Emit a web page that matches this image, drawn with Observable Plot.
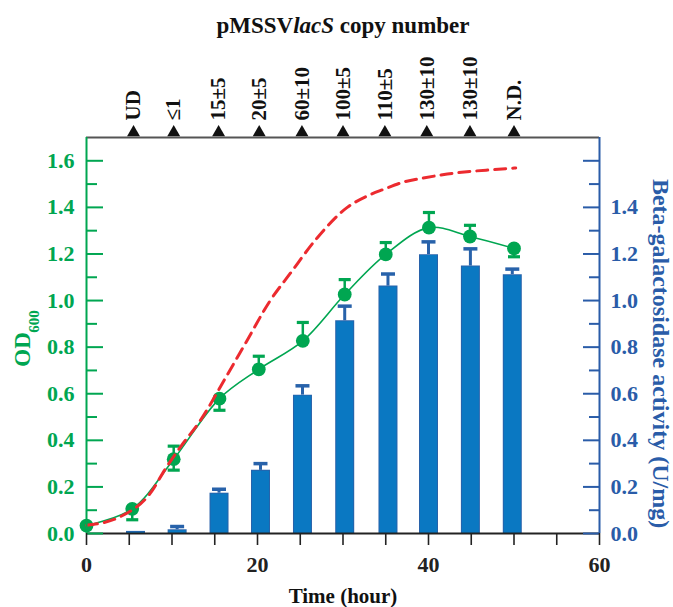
<!DOCTYPE html>
<html><head><meta charset="utf-8">
<script src="https://cdn.jsdelivr.net/npm/d3@7"></script>
<script src="https://cdn.jsdelivr.net/npm/@observablehq/plot@0.6"></script>
<style>body{margin:0;background:#fff}</style>
</head><body><div id="chart"></div>
<script>
// OD600 growth data (green)
const odTime = [0, 5.35, 10.2, 15.55, 20.15, 25.3, 30.2, 35.0, 40.05, 44.85, 50.0];
const odValue = [0.034, 0.106, 0.319, 0.579, 0.705, 0.827, 1.026, 1.198, 1.313, 1.275, 1.224];
const odErrUp = [null, null, 0.375, null, 0.761, 0.906, 1.09, 1.249, 1.378, 1.323, null];
const odErrDown = [null, 0.059, 0.272, 0.529, null, null, null, null, null, null, 1.188];

// Beta-galactosidase activity (blue bars)
const barTime = [5.73, 10.6, 15.5, 20.35, 25.26, 30.2, 35.26, 40.0, 44.9, 49.8];
const barValue = [0.009, 0.016, 0.173, 0.271, 0.594, 0.913, 1.062, 1.197, 1.148, 1.111];
const barErrUp = [null, 0.03, 0.19, 0.30, 0.634, 0.976, 1.114, 1.252, 1.222, 1.135];

// Red dashed reference growth curve
const redTime = [0, 4, 7.7, 9.1, 11, 13.4, 16.1, 18.8, 21.4, 23.9, 27, 30.5, 32.9, 34.8, 37.1, 39.4, 42.2, 44.5, 47.6, 50.2];
const redValue = [0.035, 0.073, 0.185, 0.27, 0.372, 0.49, 0.658, 0.83, 0.995, 1.12, 1.27, 1.40, 1.45, 1.478, 1.509, 1.526, 1.543, 1.553, 1.562, 1.569];

// Copy number annotations (top)
const copyTime = [5.5, 10.2, 15.45, 20.2, 25.2, 30.0, 34.9, 39.8, 44.85, 50.0];
const copyLabels = ["UD", "≤1", "15±5", "20±5", "60±10", "100±5", "110±5", "130±10", "130±10", "N.D."];

const xTicksMinor = [0, 5, 10, 15, 20, 25, 30, 35, 40, 45, 50, 55, 60];
const xTickLabels = [0, 20, 40, 60];
const yMajor = [0, 0.2, 0.4, 0.6, 0.8, 1.0, 1.2, 1.4, 1.6];
const yMinor = [0.1, 0.3, 0.5, 0.7, 0.9, 1.1, 1.3, 1.5];
const yRightLabels = [0, 0.2, 0.4, 0.6, 0.8, 1.0, 1.2, 1.4];

const GREEN = "#00a651", BLUE = "#2a5ca8", BARFILL = "#0a78c2", BAREDGE = "#2862aa", RED = "#ec2a2f";
const FONT = "'Liberation Serif', 'Times New Roman', serif";

const od = odTime.map((t, i) => ({t, v: odValue[i], up: odErrUp[i], down: odErrDown[i]}));
const bars = barTime.map((t, i) => ({t, v: barValue[i], up: barErrUp[i]}));
const red = redTime.map((t, i) => ({t, v: redValue[i]}));
const copy = copyTime.map((t, i) => ({t, label: copyLabels[i]}));

const cap = {draw(ctx, size) { const w = Math.sqrt(size); ctx.moveTo(-w / 2, 0); ctx.lineTo(w / 2, 0); }};
const fmt = d3.format(".1f");
const YTOP = 1.7;

const chart = Plot.plot({
  width: 673, height: 607,
  marginLeft: 86, marginRight: 74, marginTop: 137, marginBottom: 74,
  style: {fontFamily: FONT, background: "white"},
  x: {domain: [0, 60]},
  y: {domain: [0, YTOP]},
  marks: [
    // bars
    Plot.ruleX(bars, {x: "t", y1: 0, y2: "v", stroke: BAREDGE, strokeWidth: 19}),
    Plot.ruleX(bars, {x: "t", y1: 0, y2: d => Math.max(0, d.v - 0.004), stroke: BARFILL, strokeWidth: 17}),
    Plot.ruleX(bars.filter(d => d.up != null), {x: "t", y1: "v", y2: "up", stroke: BAREDGE, strokeWidth: 3}),
    Plot.dot(bars.filter(d => d.up != null), {x: "t", y: "up", symbol: cap, r: 7.9, stroke: BAREDGE, strokeWidth: 3.5, fill: "none"}),
    // green curve + errors + dots
    Plot.line(od, {x: "t", y: "v", curve: "catmull-rom", stroke: GREEN, strokeWidth: 1.6}),
    Plot.ruleX(od.filter(d => d.up != null), {x: "t", y1: "v", y2: "up", stroke: GREEN, strokeWidth: 2.5}),
    Plot.dot(od.filter(d => d.up != null), {x: "t", y: "up", symbol: cap, r: 6.8, stroke: GREEN, strokeWidth: 3.2, fill: "none"}),
    Plot.ruleX(od.filter(d => d.down != null), {x: "t", y1: "v", y2: "down", stroke: GREEN, strokeWidth: 2.5}),
    Plot.dot(od.filter(d => d.down != null), {x: "t", y: "down", symbol: cap, r: 6.8, stroke: GREEN, strokeWidth: 3.2, fill: "none"}),
    Plot.dot(od, {x: "t", y: "v", r: 6.9, fill: GREEN, stroke: "none"}),
    // red dashed
    Plot.line(red, {x: "t", y: "v", curve: "monotone-x", stroke: RED, strokeWidth: 3, strokeDasharray: "11,7"}),
    // frame lines
    Plot.ruleY([YTOP], {stroke: "#555", strokeWidth: 2}),
    Plot.ruleY([0], {stroke: "#222", strokeWidth: 2}),
    Plot.ruleX([0], {stroke: GREEN, strokeWidth: 2}),
    Plot.ruleX([60], {stroke: BLUE, strokeWidth: 2}),
    // left axis
    Plot.axisY({anchor: "left", ticks: yMajor, tickSize: -17, tickFormat: () => "", stroke: GREEN, strokeWidth: 2, label: null}),
    Plot.axisY({anchor: "left", ticks: yMinor, tickSize: -11, tickFormat: () => "", stroke: GREEN, strokeWidth: 2, label: null}),
    Plot.axisY({anchor: "left", ticks: yMajor, tickSize: 0, tickPadding: 12, tickFormat: fmt, fill: GREEN, fontSize: 22, fontWeight: "bold", label: null}),
    // right axis
    Plot.axisY({anchor: "right", ticks: yMajor, tickSize: -17, tickFormat: () => "", stroke: BLUE, strokeWidth: 2, label: null}),
    Plot.axisY({anchor: "right", ticks: yMinor, tickSize: -11, tickFormat: () => "", stroke: BLUE, strokeWidth: 2, label: null}),
    Plot.axisY({anchor: "right", ticks: yRightLabels, tickSize: 0, tickPadding: 11, tickFormat: fmt, fill: BLUE, fontSize: 22, fontWeight: "bold", label: null}),
    // bottom axis
    Plot.axisX({ticks: xTicksMinor, tickSize: 12, tickFormat: () => "", stroke: "#222", strokeWidth: 1.6, label: null}),
    Plot.axisX({ticks: xTickLabels, tickSize: 0, tickPadding: 23, tickFormat: d => d, fill: "#222", fontSize: 22, fontWeight: "bold", label: null}),
    // top copy-number annotations
    Plot.dot(copy, {x: "t", y: YTOP, symbol: "triangle", r: 4.8, dy: -5, fill: "#111", stroke: "none"}),
    Plot.text(copy, {x: "t", y: YTOP, text: "label", rotate: -90, textAnchor: "start", dy: -17, fontSize: 21, fontWeight: "bold", fill: "#111"}),
    // titles
    Plot.text(["pMSSVlacS copy number"], {frameAnchor: "top", dy: -121, textAnchor: "middle", fontSize: 23, fontWeight: "bold", fill: "#111"}),
    Plot.text(["Time (hour)"], {frameAnchor: "bottom", dy: 69, textAnchor: "middle", fontSize: 21, fontWeight: "bold", fill: "#111"}),
    Plot.text(["OD"], {frameAnchor: "left", dx: -64, dy: 14, rotate: -90, textAnchor: "middle", fontSize: 23, fontWeight: "bold", fill: GREEN}),
    Plot.text(["600"], {frameAnchor: "left", dx: -52, dy: -14, rotate: -90, textAnchor: "middle", fontSize: 15, fontWeight: "bold", fill: GREEN}),
    Plot.text(["Beta-galactosidase activity (U/mg)"], {frameAnchor: "right", dx: 61, dy: 18, rotate: 90, textAnchor: "middle", fontSize: 24, fontWeight: "bold", fill: BLUE})
  ]
});

// italicize "lacS" in the title
d3.select(chart).selectAll("text").each(function() {
  if (this.textContent === "pMSSVlacS copy number") {
    const el = d3.select(this);
    el.text(null);
    el.append("tspan").text("pMSSV");
    el.append("tspan").attr("font-style", "italic").text("lacS");
    el.append("tspan").text(" copy number");
  }
});

document.getElementById("chart").appendChild(chart);
</script>
</body></html>
